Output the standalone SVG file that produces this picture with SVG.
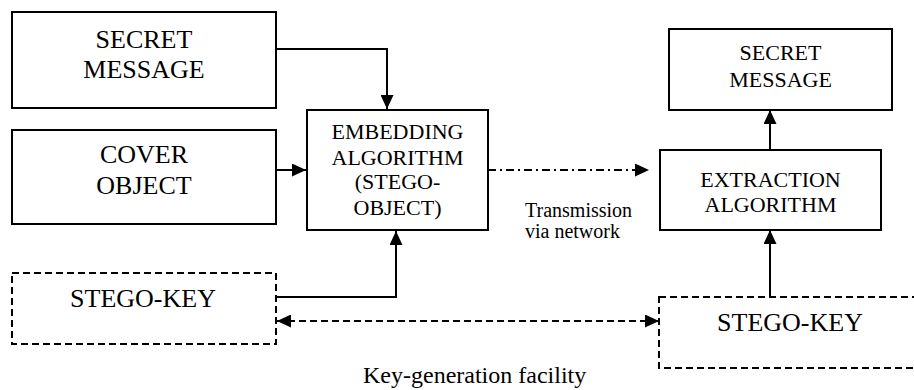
<svg xmlns="http://www.w3.org/2000/svg" width="914" height="390" viewBox="0 0 914 390">
<style>
.box{fill:#fff;stroke:#000;stroke-width:2}
.dbox{fill:#fff;stroke:#000;stroke-width:2;stroke-dasharray:7 4}
text{font-family:'Liberation Serif','Times New Roman','DejaVu Serif',serif;fill:#000;text-anchor:middle}
.big{font-size:26px}
.mid{font-size:22px}
.sm{font-size:20px;text-anchor:start}
.ln{fill:none;stroke:#000;stroke-width:2}
</style>
<defs>
<marker id="ah" markerUnits="userSpaceOnUse" markerWidth="15" markerHeight="13" refX="14" refY="6.5" orient="auto-start-reverse">
<path d="M0,0 L14,6.5 L0,13 z" fill="#000"/>
</marker>
</defs>
<rect width="914" height="390" fill="#fff"/>
<g id="connectors">
<polyline class="ln" points="276,49 387,49 387,109" marker-end="url(#ah)"/>
<line class="ln" x1="276" y1="170" x2="306" y2="170" marker-end="url(#ah)"/>
<polyline class="ln" points="276,297 396,297 396,231" marker-end="url(#ah)"/>
<line class="ln" x1="488" y1="170" x2="649" y2="170" stroke-dasharray="8 4 2 4" marker-end="url(#ah)"/>
<line class="ln" x1="770" y1="150" x2="770" y2="110" marker-end="url(#ah)"/>
<line class="ln" x1="770" y1="297" x2="770" y2="230" marker-end="url(#ah)"/>
<line class="ln" x1="277" y1="321" x2="659" y2="321" stroke-dasharray="7 4" marker-start="url(#ah)" marker-end="url(#ah)"/>
</g>
<g id="secret-message-in">
<rect class="box" x="12" y="12" width="264" height="96"/>
<text class="big" x="144" y="48">SECRET</text>
<text class="big" x="144" y="78">MESSAGE</text>
</g>
<g id="cover-object">
<rect class="box" x="12" y="130" width="264" height="94"/>
<text class="big" x="144" y="163">COVER</text>
<text class="big" x="144" y="194">OBJECT</text>
</g>
<g id="stego-key-left">
<rect class="dbox" x="12" y="273" width="264" height="71"/>
<text class="big" x="143" y="307">STEGO-KEY</text>
</g>
<g id="embedding">
<rect class="box" x="307" y="110" width="181" height="120"/>
<text class="mid" x="397.5" y="139">EMBEDDING</text>
<text class="mid" x="397.5" y="165">ALGORITHM</text>
<text class="mid" x="397.5" y="189">(STEGO-</text>
<text class="mid" x="397.5" y="215">OBJECT)</text>
</g>
<g id="transmission-label">
<text class="sm" x="525" y="217">Transmission</text>
<text class="sm" x="525" y="238">via network</text>
</g>
<g id="extraction">
<rect class="box" x="660" y="150" width="221" height="80"/>
<text class="mid" x="770.5" y="187">EXTRACTION</text>
<text class="mid" x="770.5" y="212">ALGORITHM</text>
</g>
<g id="secret-message-out">
<rect class="box" x="669" y="29" width="223" height="81"/>
<text class="mid" x="780.5" y="60">SECRET</text>
<text class="mid" x="780.5" y="87">MESSAGE</text>
</g>
<g id="stego-key-right">
<rect class="dbox" x="659" y="297" width="262" height="71"/>
<text class="big" x="790" y="331">STEGO-KEY</text>
</g>
<g id="key-generation-label">
<text style="font-size:24px;text-anchor:start" x="363" y="383">Key-generation facility</text>
</g>
</svg>
